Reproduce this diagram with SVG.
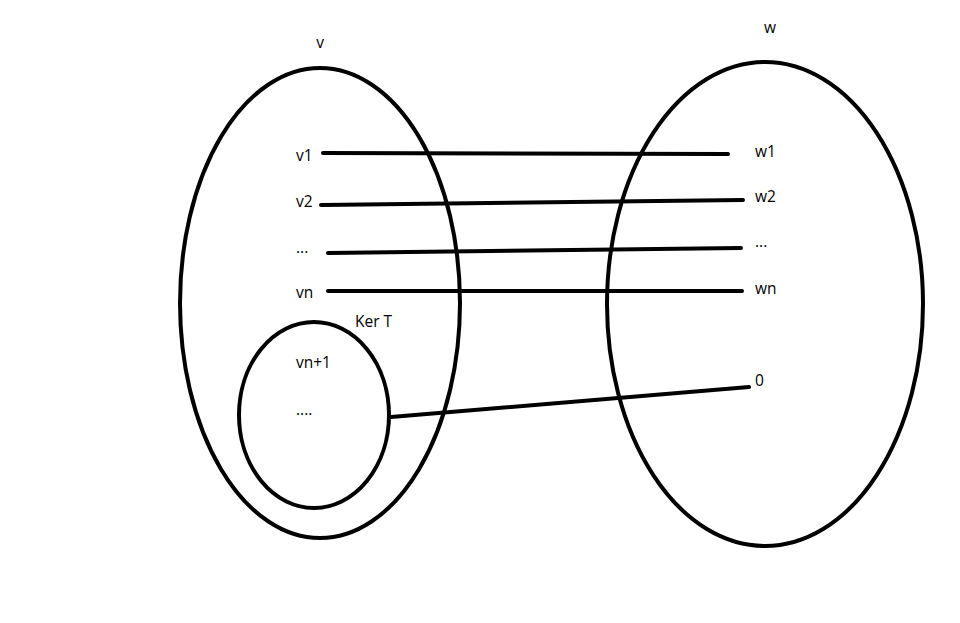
<svg xmlns="http://www.w3.org/2000/svg" width="960" height="623" viewBox="0 0 960 623">
<style>
.sh{fill:none;stroke:#000;stroke-width:4}
.ln{stroke:#000;stroke-width:4;stroke-linecap:round;fill:none}
text{font-family:"Open Sans","Noto Sans","Liberation Sans",sans-serif;font-size:15.5px;fill:#000}
</style>
<rect width="960" height="623" fill="#fff"/>
<g id="V">
<ellipse class="sh" cx="320" cy="303" rx="140" ry="235"/>
<text x="320" y="48" text-anchor="middle">v</text>
<text x="296" y="161">v1</text>
<text x="296" y="207">v2</text>
<text x="296" y="253">...</text>
<text x="296" y="298">vn</text>
</g>
<g id="KerT">
<ellipse class="sh" cx="314" cy="415" rx="75" ry="93"/>
<text x="355" y="327">Ker T</text>
<text x="296" y="368">vn+1</text>
<text x="296" y="415">....</text>
</g>
<g id="W">
<ellipse class="sh" cx="765" cy="304" rx="158" ry="242"/>
<text x="770" y="33" text-anchor="middle">w</text>
<text x="755" y="157">w1</text>
<text x="755" y="202">w2</text>
<text x="755" y="247">...</text>
<text x="755" y="294">wn</text>
<text x="755" y="386">0</text>
</g>
<g id="connectors">
<line class="ln" x1="323" y1="153" x2="728" y2="154"/>
<line class="ln" x1="321" y1="205" x2="743" y2="200"/>
<line class="ln" x1="328" y1="253" x2="741" y2="248"/>
<line class="ln" x1="328" y1="291" x2="742" y2="291"/>
<line class="ln" x1="391" y1="417" x2="749" y2="387"/>
</g>
</svg>
